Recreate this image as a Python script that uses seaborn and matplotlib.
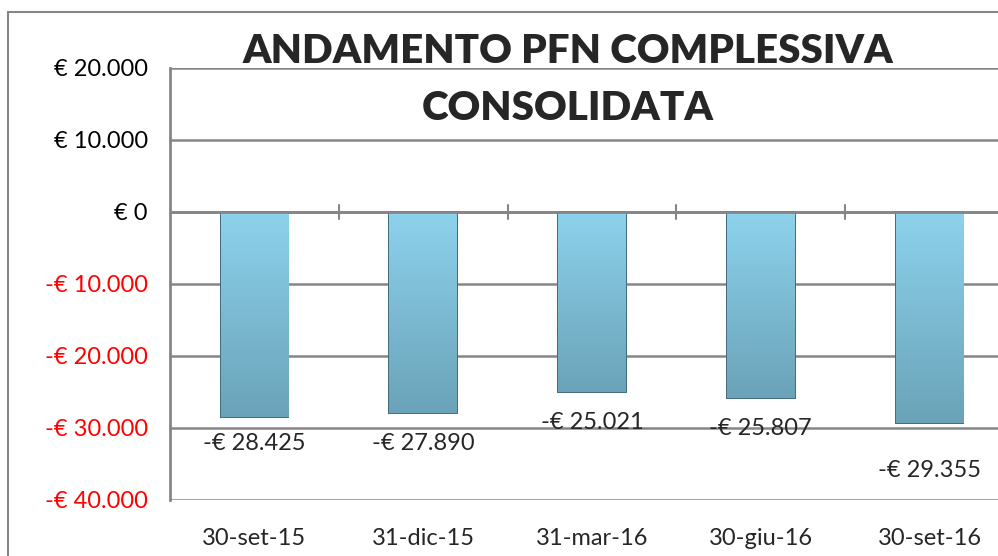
import matplotlib
matplotlib.use("Agg")
import matplotlib.pyplot as plt
import matplotlib.patches as mpatches
import numpy as np
import pandas as pd
import seaborn as sns

# dati
date = ["30-set-15", "31-dic-15", "31-mar-16", "30-giu-16", "30-set-16"]
pfn = [-28425, -27890, -25021, -25807, -29355]
etichette = ["-€ 28.425", "-€ 27.890", "-€ 25.021", "-€ 25.807", "-€ 29.355"]
tick_valori = [20000, 10000, 0, -10000, -20000, -30000, -40000]
tick_testi = ["€ 20.000", "€ 10.000", "€ 0", "-€ 10.000", "-€ 20.000", "-€ 30.000", "-€ 40.000"]
# spostamento etichette sotto la barra (punti)
offset_etich = [-19, -22, -22, -22, -34]

df = pd.DataFrame({"data": date, "pfn": pfn})

sns.set_style("white")
plt.rcParams["font.family"] = ["Lato", "DejaVu Sans"]

fig = plt.figure(figsize=(9.98, 5.56), dpi=100)
ax = fig.add_axes([170 / 998, 56 / 556, 844 / 998, 432 / 556])

sns.barplot(data=df, x="data", y="pfn", color="#7EBFD8", width=0.4,
            edgecolor="#3F6A7A", linewidth=1.4, ax=ax, zorder=3)

# sfumatura delle barre
grad = np.linspace(0, 1, 256).reshape(-1, 1)
cmap = matplotlib.colors.LinearSegmentedColormap.from_list("b", ["#8DD2EC", "#6AA3B8"])
for p in ax.patches:
    x0, y0 = p.get_x(), p.get_y()
    w, h = p.get_width(), p.get_height()
    im = ax.imshow(grad, extent=[x0, x0 + w, y0 + h, y0], aspect="auto",
                   cmap=cmap, zorder=3.5, origin="upper")
    im.set_clip_path(p)

ax.set_ylim(-40000, 20000)
ax.set_xlim(-0.5, 4.5)
ax.set_yticks(tick_valori)
ax.set_yticklabels(tick_testi, fontsize=17)
for t, v in zip(ax.get_yticklabels(), tick_valori):
    t.set_color("red" if v < 0 else "black")
ax.tick_params(axis="y", length=8, width=1.5, color="#868686", pad=8, direction="out")
ax.tick_params(axis="x", length=0, labelsize=17, pad=20)
ax.set_xlabel("")
ax.set_ylabel("")

for v in tick_valori:
    ax.axhline(v, color="#868686", lw=1.8, zorder=1)

# asse zero con tacche di categoria
ax.axhline(0, color="#868686", lw=2, zorder=4)
for xb in [0.5, 1.5, 2.5, 3.5]:
    ax.plot([xb, xb], [-1000, 1000], color="#868686", lw=1.5, zorder=4)

for s in ["top", "right", "bottom"]:
    ax.spines[s].set_visible(False)
ax.spines["left"].set_color("#868686")
ax.spines["left"].set_linewidth(2)

for i, (v, lab) in enumerate(zip(pfn, etichette)):
    ax.annotate(lab, (i, v), xytext=(0, offset_etich[i]), textcoords="offset points",
                ha="center", va="center", fontsize=17, zorder=6)

fig.text(568 / 998, 1 - 80 / 556, "ANDAMENTO PFN COMPLESSIVA\nCONSOLIDATA",
         ha="center", va="center", fontsize=29, fontweight="heavy", linespacing=1.65)

fig.patches.append(mpatches.Rectangle((8 / 998, -0.1), 1.2, 1 - 12 / 556 + 0.1,
                                      transform=fig.transFigure, fill=False,
                                      edgecolor="#868686", lw=1.5))

plt.savefig("out.png", dpi=100)
